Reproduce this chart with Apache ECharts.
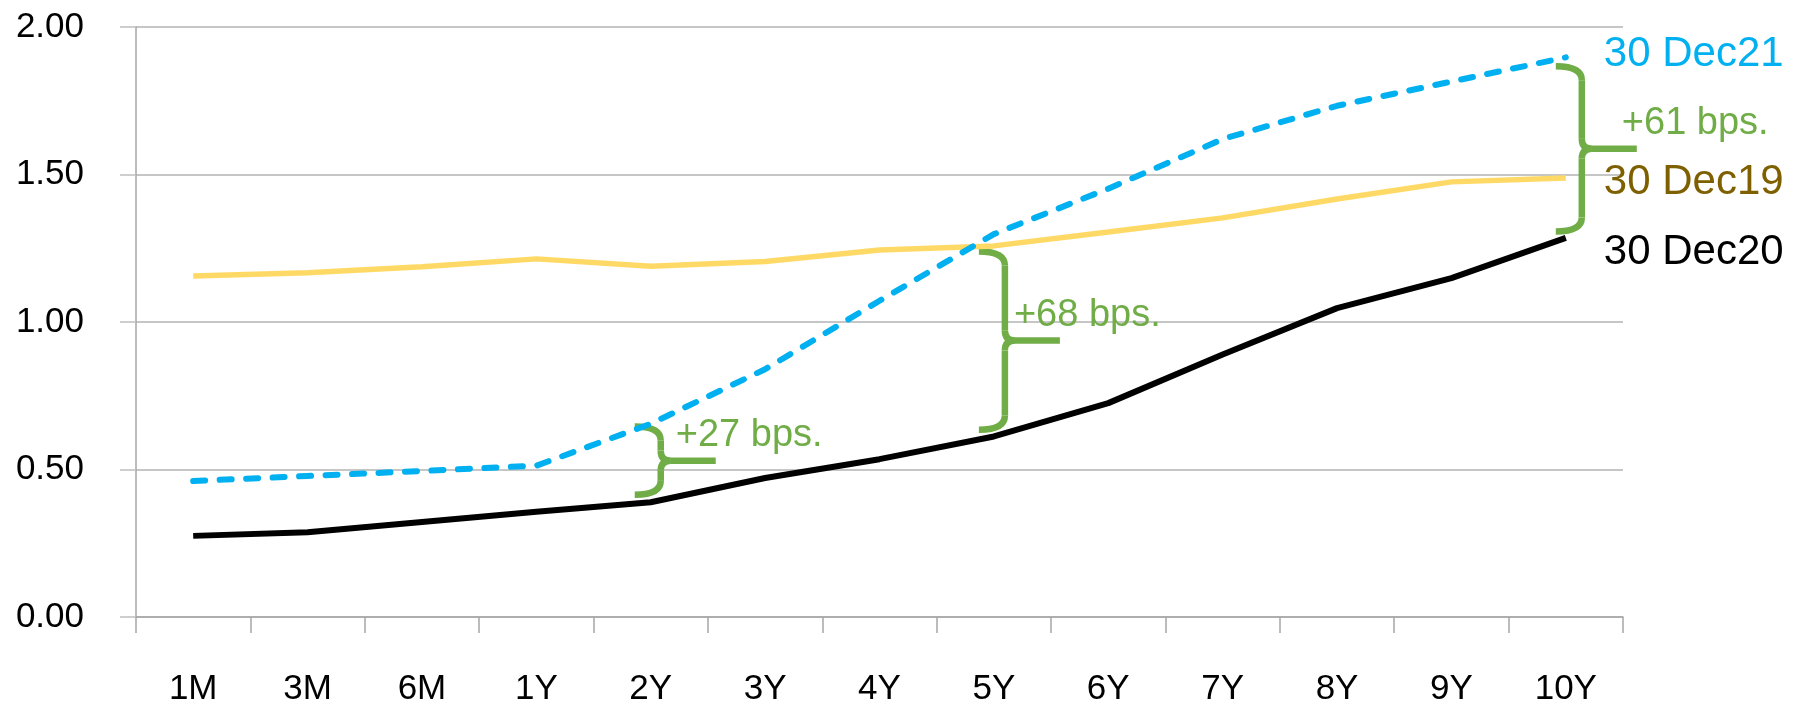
<!DOCTYPE html>
<html>
<head>
<meta charset="utf-8">
<script src="https://cdn.jsdelivr.net/npm/echarts@6/dist/echarts.min.js"></script>
<style>
    html, body { margin: 0; padding: 0; background: #fff; }
    #curve { width: 1798px; height: 704px; }
</style>
</head>
<body>
<div id="curve"></div>
<script>
// tenors on the x axis
const tenors = ['1M', '3M', '6M', '1Y', '2Y', '3Y', '4Y', '5Y', '6Y', '7Y', '8Y', '9Y', '10Y'];
// yields
const dec19 = [1.156, 1.167, 1.187, 1.214, 1.189, 1.205, 1.244, 1.258, 1.305, 1.353, 1.417, 1.475, 1.488];
const dec20 = [0.275, 0.287, 0.322, 0.357, 0.389, 0.471, 0.535, 0.612, 0.725, 0.890, 1.047, 1.149, 1.285];
const dec21 = [0.461, 0.478, 0.495, 0.513, 0.655, 0.840, 1.072, 1.298, 1.452, 1.620, 1.733, 1.815, 1.897];
// spread brackets: tenor index, top and bottom value
const spreadText = ['+27 bps.', '+68 bps.', '+61 bps.'];
const spreadAt = [4, 7, 12];
const spreadTop = [0.646, 1.239, 1.867];
const spreadBottom = [0.414, 0.635, 1.307];

const FONT = '"Liberation Sans", Arial, sans-serif';
const GREEN = '#70AD47';

let chart = echarts.init(document.getElementById('curve'));

let option = {
    animation: false,
    grid: {
        left: 136,
        right: 175,
        top: 27,
        bottom: 87,
        containLabel: false,
        outerBoundsMode: 'none'
    },
    xAxis: {
        type: 'category',
        data: tenors,
        axisLine: { lineStyle: { color: '#a6a6a6', width: 1.5 } },
        axisTick: { show: true, length: 16, lineStyle: { color: '#a6a6a6', width: 1.5 } },
        axisLabel: { color: '#000', fontSize: 35, fontFamily: FONT, margin: 55 }
    },
    yAxis: {
        type: 'value',
        min: 0,
        max: 2,
        interval: 0.5,
        axisLine: { show: true, lineStyle: { color: '#a6a6a6', width: 1.5 } },
        axisTick: { show: true, length: 16, lineStyle: { color: '#bfbfbf', width: 1.5 } },
        splitLine: { lineStyle: { color: '#b3b3b3', width: 1.5 } },
        axisLabel: {
            color: '#000',
            fontSize: 35,
            fontFamily: FONT,
            margin: 52,
            formatter: (value) => value.toFixed(2)
        }
    },
    series: [{
        name: '30 Dec19',
        type: 'line',
        data: dec19,
        symbol: 'none',
        lineStyle: { color: '#FFD966', width: 5.5 },
        endLabel: {
            show: true, formatter: '{a}', distance: 38, offset: [0, 4],
            color: '#7F6000', fontSize: 42, fontFamily: FONT
        }
    }, {
        name: '30 Dec20',
        type: 'line',
        data: dec20,
        symbol: 'none',
        lineStyle: { color: '#000', width: 6 },
        endLabel: {
            show: true, formatter: '{a}', distance: 38, offset: [0, 14],
            color: '#000', fontSize: 42, fontFamily: FONT
        }
    }, {
        name: '30 Dec21',
        type: 'line',
        data: dec21,
        symbol: 'none',
        lineStyle: { color: '#00B0F0', width: 6, type: [12, 14.5], cap: 'round' },
        endLabel: {
            show: true, formatter: '{a}', distance: 38, offset: [0, -3],
            color: '#00B0F0', fontSize: 42, fontFamily: FONT
        }
    }]
};
chart.setOption(option);

// curly brackets between the curves, placed through the axes
function drawSpreads() {
    let braceDx = [10, 11, 16];
    let textDx = [15, 9, 40];
    let pen = { stroke: GREEN, lineWidth: 6.5, fill: null, lineCap: 'butt' };
    let graphics = [];
    spreadText.forEach((text, i) => {
        let p1 = chart.convertToPixel({ gridIndex: 0 }, [spreadAt[i], spreadTop[i]]);
        let p2 = chart.convertToPixel({ gridIndex: 0 }, [spreadAt[i], spreadBottom[i]]);
        let x = p1[0] + braceDx[i];
        let t = p1[1];
        let b = p2[1];
        let m = (t + b) / 2;
        graphics.push(
            { type: 'bezierCurve', shape: { x1: x - 26, y1: t, cpx1: x, cpy1: t, x2: x, y2: t + 14 }, style: pen },
            { type: 'line', shape: { x1: x, y1: t + 14, x2: x, y2: m - 10 }, style: pen },
            { type: 'bezierCurve', shape: { x1: x, y1: m - 10, cpx1: x, cpy1: m, x2: x + 10, y2: m }, style: pen },
            { type: 'line', shape: { x1: x + 10, y1: m, x2: x + 55, y2: m }, style: pen },
            { type: 'bezierCurve', shape: { x1: x + 10, y1: m, cpx1: x, cpy1: m, x2: x, y2: m + 10 }, style: pen },
            { type: 'line', shape: { x1: x, y1: m + 10, x2: x, y2: b - 14 }, style: pen },
            { type: 'bezierCurve', shape: { x1: x, y1: b - 14, cpx1: x, cpy1: b, x2: x - 26, y2: b }, style: pen },
            {
                type: 'text',
                x: x + textDx[i],
                y: m - 25,
                style: {
                    text: text,
                    fill: GREEN,
                    fontSize: 38,
                    fontFamily: FONT,
                    verticalAlign: 'middle'
                }
            }
        );
    });
    chart.setOption({ graphic: graphics });
}
drawSpreads();
</script>
</body>
</html>
